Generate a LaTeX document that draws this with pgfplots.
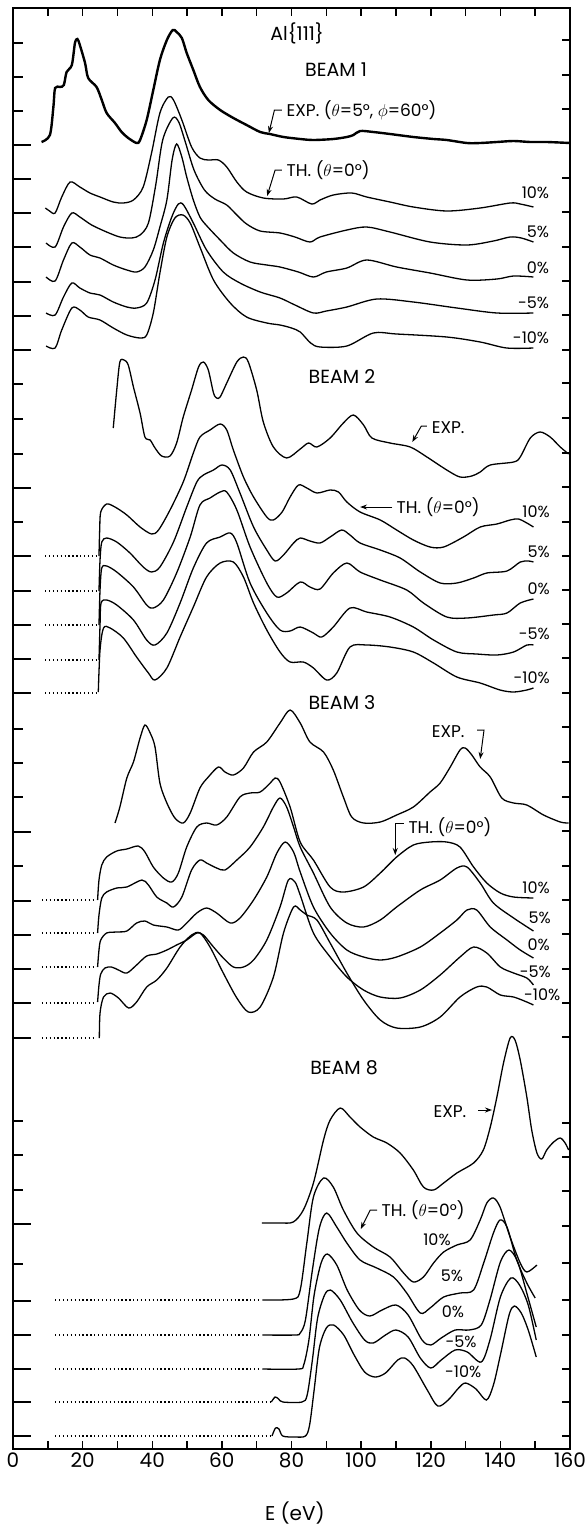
\documentclass[border=0pt]{standalone}
\usepackage{fontspec}
\setmainfont{Poppins}
\usepackage{pgfplots}
\pgfplotsset{compat=1.18}
\usetikzlibrary{arrows.meta}

\newcommand{\lab}{\fontsize{17}{19}\selectfont}
\newcommand{\beam}{\fontsize{19}{21}\selectfont}
\newcommand{\pct}{\fontsize{16}{18}\selectfont}

\pgfplotsset{
  frame/.style={scale only axis, width=557pt, height=1441pt,
    xmin=0, xmax=160, ymin=8, ymax=1449, y dir=reverse, tick align=inside},
  th/.style={black, line width=1.3pt, smooth, tension=0.5},
  base/.style={black, line width=1.3pt, dash pattern=on 1.3pt off 2.6pt},
}
\tikzset{ann/.style={black, line width=1pt, -{Stealth[length=7pt,width=5pt]}}}

\begin{document}
\begin{tikzpicture}
\begin{axis}[frame, name=main, clip=false,
  axis line style={line width=1.8pt},
  xtick={0,20,...,160}, minor xtick={10,30,...,150},
  ytick=\empty,
  major tick length=8pt, minor tick length=8pt,
  tick style={black, line width=1.5pt},
  xticklabel style={font=\fontsize{20}{22}\selectfont},
  /pgf/number format/assume math mode=true,
  xlabel={E (eV)},
  xlabel style={font=\fontsize{20}{22}\selectfont, at={(axis description cs:0.506,0)}, anchor=center, yshift=-64pt},
]

% ---------------- BEAM 1 ----------------
\addplot[black, line width=2.4pt, smooth, tension=0.5] coordinates {
(8.2,142) (10.6,135) (11.6,107) (12.1,88) (13.5,87) (14.6,85) (15.4,72) (16.9,65) (17.8,43) (18.5,39) (19.2,45) (20.7,63) (21.6,78) (24.0,87) (25.5,100) (26.9,113) (29.3,123) (31.2,132) (33.1,138) (35.5,143) (36.5,140) (38.4,120) (40.3,90) (42.2,60) (44.2,40) (45.9,30) (47.0,32) (48.5,38) (49.9,53) (51.8,70) (53.7,87) (56.1,100) (59.5,110) (63.3,118) (67.1,125) (71.0,132) (73.8,134) (77.7,137) (82.5,139) (86.3,140) (92,139) (95.9,137) (97.8,135) (99.7,131) (103.5,132) (108.3,134) (115.0,137) (120.8,139) (124.6,140) (130.4,143) (134.2,143) (139.0,142) (143.8,141) (148.6,142) (153.3,142) (160,143)
};
\addplot[th] coordinates {
(9.3,208) (10.5,211) (12.1,213) (14.0,197) (16.4,182) (19.2,187) (22.1,193) (25,197) (28.8,202) (31.7,203) (34.6,200) (37.4,187) (39.8,153) (42.2,113) (44.6,97) (46.1,100) (48.5,120) (51.3,147) (53.7,158) (56.1,160) (59,160) (61.4,167) (64.3,182) (67.1,192) (71.9,198) (77.7,199) (81.5,197) (85.8,204) (88.2,200) (92,195) (97.3,193) (101.6,197) (108.3,202) (115,207) (124.6,211) (134.2,208) (142.8,203) (145.7,204) (149.5,207)
};
\addplot[th] coordinates {
(9.5,243) (12.1,247) (14.5,227) (16.9,213) (19.2,217) (22.6,225) (26.9,232) (30.7,237) (34.1,238) (36.5,235) (38.9,223) (41,185) (43,140) (45.9,118) (47.6,122) (49.5,142) (52,170) (55,190) (58,199) (61.4,205) (64.3,215) (67.1,224) (71,231) (76.7,233) (81,237) (85.3,242) (88.2,237) (95.9,230) (101.6,227) (108.3,232) (119.8,242) (130.4,245) (138,241) (142.8,237) (146,238) (149.5,242)
};
\addplot[th] coordinates {
(9.5,277) (12.1,281) (14.5,260) (16.9,243) (19.2,247) (22.1,255) (25,258) (28.8,265) (32.7,270) (35.5,272) (37.9,267) (40.3,250) (42.2,227) (44.2,200) (45.7,160) (47,144) (48.5,157) (49.9,177) (51.8,200) (53.7,217) (55.7,226) (59.5,240) (63.3,253) (68.1,262) (72.9,265) (76.7,267) (82,272) (86.3,277) (90,272) (95.9,268) (101.6,260) (110.2,267) (119.8,273) (130.4,280) (139,279) (143.8,276) (149.5,277)
};
\addplot[th] coordinates {
(9.5,313) (12.1,315) (14.5,297) (16.9,283) (19.2,288) (22.1,293) (25,295) (28.8,302) (32.7,307) (35.5,308) (38.4,303) (40.8,280) (43.2,243) (45.6,217) (47.5,204) (49,205) (51.8,223) (55.6,250) (60.4,272) (65.2,283) (71,292) (76.7,298) (81,305) (86.3,313) (90,311) (95.9,307) (104.5,299) (115,302) (127.5,308) (139,313) (149.5,313)
};
\addplot[th] coordinates {
(9.5,346) (12.1,348) (14,330) (16.9,308) (19.2,310) (21.6,317) (25,320) (28.8,328) (32.7,335) (36.5,338) (38.4,335) (40.3,313) (42.2,273) (44.2,237) (46.5,218) (48.8,215) (50.9,223) (53.7,247) (57.6,280) (62.4,303) (67.1,317) (72.9,323) (76.7,325) (80,328) (82.5,332) (85.5,343) (88.2,347) (95.9,346) (103.5,333) (110.2,334) (124.6,337) (134.2,342) (141.8,348) (149.5,348)
};

% ---------------- BEAM 2 ----------------
\addplot[th] coordinates {
(28.8,428) (29.8,390) (30.7,362) (31.9,360) (33.1,365) (34.6,387) (36.5,413) (37.9,437) (39.4,440) (40.8,448) (42.7,456) (45.1,456) (47,443) (48.9,417) (51.3,390) (53.3,367) (54.7,362) (56.1,370) (57.6,393) (58.5,398) (59.5,397) (61.4,383) (64.3,362) (66.2,357) (67.6,362) (70,390) (71.9,422) (74.8,447) (78.6,458) (82.5,449) (84.9,443) (87.3,447) (91.1,438) (94.9,423) (97.8,415) (100.7,425) (103.1,438) (108.3,443) (114.1,447) (118.9,457) (124.6,470) (128.4,477) (131.8,476) (134.2,472) (137.1,465) (143.8,462) (145.7,457) (148.6,438) (151.4,432) (154.3,437) (157.2,447) (159.6,454)
};
\addplot[base] coordinates {(9.2,556) (24.1,556)};
\addplot[base] coordinates {(9.2,591) (24.1,591)};
\addplot[base] coordinates {(9.2,625) (24.1,625)};
\addplot[base] coordinates {(9.2,660) (24.1,660)};
\addplot[base] coordinates {(9.2,693) (24.1,693)};
\addplot[th] coordinates {
(24.7,556) (24.9,530) (25.2,512) (26.9,504) (29.3,507) (32.7,515) (36.5,527) (39.8,534) (41.8,530) (45.1,510) (48.9,482) (51.8,453) (53.7,437) (56.6,430) (59.5,424) (61.4,430) (63.3,450) (66.2,477) (69.1,497) (72.9,517) (74.8,520) (77.3,512) (79.6,497) (82,485) (84.4,488) (87.3,493) (91.1,490) (93.5,492) (95.9,502) (99.7,512) (105.5,520) (110.2,530) (115,540) (119.8,547) (123.7,547) (129.4,537) (134.2,527) (139,524) (142.8,520) (145.2,519) (147.6,523) (149.5,527)
};
\addplot[th] coordinates {
(24.7,591) (25.0,560) (25.5,542) (26.9,538) (29.8,542) (33.6,553) (37.4,567) (39.8,572) (42.2,567) (46.1,542) (49.9,507) (52.8,482) (54.7,475) (57.6,470) (60,465) (62.4,470) (65.2,493) (69.1,527) (72.9,550) (75.3,561) (77.7,555) (80.6,543) (82.5,538) (85.3,541) (88.2,543) (91.1,537) (94.4,530) (96.8,535) (99.7,543) (105.5,550) (111.2,558) (117,572) (122.7,583) (127.5,583) (132.3,578) (136.1,573) (141.9,571) (145.7,562) (148.1,561) (149.5,562)
};
\addplot[th] coordinates {
(24.7,625) (25.0,590) (25.5,568) (26.9,566) (29.8,572) (34.6,587) (38.4,605) (40.3,608) (43.2,600) (47,573) (50.9,537) (53.7,505) (56.6,498) (59.5,492) (61.4,492) (64.3,510) (68.1,547) (72.9,583) (75.8,597) (78.6,593) (82.5,582) (85.3,587) (88.2,589) (92,573) (95.9,563) (99.7,572) (105.5,580) (113.1,590) (117.9,603) (124.6,617) (130.4,618) (138,615) (141.9,613) (145.7,603) (149.5,599)
};
\addplot[th] coordinates {
(24.7,660) (25.0,625) (25.3,603) (26.9,600) (29.8,605) (34.6,620) (38.4,640) (40.8,645) (44.2,633) (48,603) (51.8,568) (55.6,543) (59.5,537) (62.4,533) (64.3,543) (68.1,583) (72.9,613) (76.7,630) (79.6,631) (82.5,627) (86.3,633) (88.7,637) (92,627) (96.8,608) (101.6,612) (108.3,617) (115,627) (120.8,640) (127.5,652) (133.2,654) (139,655) (143.8,652) (147.6,645) (149.5,645)
};
\addplot[th] coordinates {
(24.5,692) (25,650) (26,628) (27.9,628) (31.7,638) (35.5,657) (38.9,673) (40.8,680) (44.2,668) (48,637) (51.8,607) (55.6,577) (59.5,563) (63.3,562) (66.2,577) (69.1,603) (72.9,630) (76.7,652) (79.6,662) (83.4,662) (86.3,668) (90.1,680) (93,673) (96.8,647) (101.6,645) (108.3,647) (115,652) (120.8,663) (127.5,677) (134.2,683) (139.9,690) (143.8,692) (147.6,690) (149.5,688)
};

% ---------------- BEAM 3 ----------------
\addplot[th] coordinates {
(29.3,823) (30.7,807) (32.7,778) (34.6,762) (36.5,738) (37.9,725) (39.4,733) (40.8,747) (42.2,783) (44.2,803) (46.5,818) (48.9,823) (50.9,813) (53.7,788) (56.1,777) (59,767) (60.9,772) (63.3,775) (66.2,768) (69.1,752) (72.9,742) (76.7,723) (79.6,710) (82.5,723) (85.3,742) (89.2,752) (92,770) (94.9,797) (97.3,817) (100.7,823) (105.5,822) (110.2,815) (115,807) (119.8,792) (122.7,783) (125.6,767) (128.4,750) (129.9,748) (131.8,755) (134.2,767) (137.1,777) (140.4,798) (143.8,803) (147.6,805) (152.4,815) (157.2,822) (159.6,823)
};
\addplot[base] coordinates {(8.3,900) (23.6,900)};
\addplot[base] coordinates {(8.3,933) (23.6,933)};
\addplot[base] coordinates {(8.3,967) (23.6,967)};
\addplot[base] coordinates {(8.3,1003) (23.6,1003)};
\addplot[base] coordinates {(8.3,1038) (23.6,1038)};
\addplot[th] coordinates {
(24.3,900) (24.7,880) (25.5,865) (26.9,857) (29.8,851) (32.7,849) (36,846) (37.9,852) (40.3,867) (43.2,878) (45.6,882) (47.5,873) (49.9,847) (52.8,827) (55.6,823) (58.5,825) (61.4,817) (65.2,797) (68.1,793) (71,792) (73.9,783) (75.3,778) (76.7,782) (79.6,807) (82.5,842) (86.3,860) (91.1,887) (94.9,892) (100.7,887) (105.5,873) (110.2,857) (115,845) (119.8,842) (124.6,842) (128.4,847) (132.3,867) (136.1,883) (140,893) (143.8,897) (149.5,898)
};
\addplot[th] coordinates {
(24.3,933) (24.7,915) (25.5,898) (26.9,892) (29.8,888) (32.7,887) (37,880) (38.9,885) (41.3,897) (44.2,903) (46.1,907) (48.5,897) (51.3,870) (53.7,860) (55.6,863) (58.5,868) (60.9,870) (64.3,860) (68.1,847) (71.9,827) (74.8,807) (76.7,798) (78.6,807) (80.6,827) (82.5,847) (86.3,873) (91.1,907) (95.9,923) (100.7,927) (105.5,920) (110.2,907) (117,890) (122.7,880) (127.5,868) (130.4,867) (134.2,883) (138,903) (143.8,918) (149.5,931)
};
\addplot[th] coordinates {
(24.3,967) (24.7,950) (25.2,940) (26.9,933) (29.8,932) (32.7,931) (35.5,923) (37.9,921) (40.3,925) (44.2,927) (47.5,930) (49.9,923) (52.8,913) (55.6,908) (58.5,913) (62.4,923) (65.2,918) (69.1,900) (72.9,877) (75.8,853) (78.2,842) (80.6,852) (82.5,872) (86.3,907) (91.1,933) (95.9,950) (100.7,957) (105.5,960) (110.2,957) (117,947) (122.7,933) (127.5,920) (130.4,910) (133.2,910) (137.1,927) (141.9,940) (145.7,950) (149.5,958)
};
\addplot[th] coordinates {
(24.3,1002) (24.7,985) (25.2,974) (26.4,968) (28.3,967) (30.3,970) (32.7,973) (35.5,965) (38.4,956) (41.3,954) (44.2,950) (47,945) (49.9,940) (52.8,933) (54.7,935) (57.6,947) (60.4,958) (63.3,967) (66.2,967) (69.1,960) (72.9,940) (76.7,907) (79.1,880) (81,882) (82.5,895) (86.3,933) (91.1,957) (95.9,977) (100.7,990) (105.5,997) (111.2,998) (117,990) (122.7,975) (128.4,957) (132.3,947) (136.1,953) (140,967) (143.8,973) (147.6,978) (149.5,985)
};
\addplot[th] coordinates {
(24.8,1038) (25,1013) (26,997) (27.9,993) (30.3,998) (33.2,1008) (35.5,1002) (38.4,987) (41.3,980) (44.2,968) (48,947) (51.3,935) (53.7,933) (56.6,947) (60.4,973) (64.3,998) (67.6,1012) (71,1007) (74.8,977) (77.7,933) (80.6,907) (82.5,910) (84.4,915) (87.3,920) (91.1,943) (95.9,973) (100.7,1000) (105.5,1020) (110.2,1028) (117,1027) (122.7,1017) (128.4,997) (133.2,987) (136.1,987) (140,995) (143.8,997) (147.6,1002) (149.5,1005)
};

% ---------------- BEAM 8 ----------------
\addplot[th] coordinates {
(71.5,1223) (76.7,1223) (80.5,1222) (83.4,1210) (86.3,1183) (89.2,1140) (91.1,1120) (94,1108) (96.8,1117) (99.7,1127) (103.5,1137) (107.4,1143) (111.2,1153) (115,1170) (117.9,1187) (120.8,1190) (123.7,1183) (127.5,1173) (132.3,1163) (135.1,1150) (137.1,1127) (139,1097) (140.9,1063) (142.8,1038) (144.2,1040) (145.7,1060) (147.6,1097) (149,1130) (150.5,1153) (151.9,1159) (153.3,1150) (155.3,1142) (157.2,1138) (158.6,1143) (159.6,1150)
};
\addplot[base] coordinates {(12.1,1300) (71.4,1300)};
\addplot[base] coordinates {(12.1,1335) (71.4,1335)};
\addplot[base] coordinates {(12.1,1369) (71.4,1369)};
\addplot[base] coordinates {(12.1,1402) (74.2,1402)};
\addplot[base] coordinates {(12.1,1436) (74.2,1436)};
\addplot[th] coordinates {
(71.6,1300) (80.5,1299) (82.5,1290) (84.4,1243) (86.3,1197) (89.2,1178) (92,1187) (94.9,1210) (98.8,1233) (103.5,1247) (108.3,1257) (112.2,1273) (115,1282) (117.9,1277) (120.8,1263) (123.7,1252) (127.5,1245) (131.3,1240) (134.2,1220) (136.1,1203) (138,1198) (139.9,1207) (142.8,1237) (145.7,1263) (147.6,1272) (150.5,1265)
};
\addplot[th] coordinates {
(71.6,1335) (81,1335) (82.5,1333) (84,1320) (86,1270) (88,1228) (90.1,1213) (93,1227) (95.9,1243) (99.7,1260) (104.5,1268) (109.3,1277) (113.1,1293) (117,1313) (119.8,1308) (123.7,1297) (128.4,1293) (132.3,1290) (135.2,1263) (138,1233) (139.9,1220) (141.9,1227) (144.7,1260) (147.6,1283) (150,1298)
};
\addplot[th] coordinates {
(71.6,1369) (82,1369) (83.5,1365) (85,1340) (86.5,1295) (88.5,1263) (90.3,1254) (93,1265) (96,1290) (99.5,1310) (102.5,1316) (106,1310) (110,1305) (113.5,1315) (117.5,1340) (120,1345) (123,1338) (127,1330) (131,1330) (134.5,1325) (137,1300) (140,1262) (142.5,1250) (145,1262) (147.5,1292) (150.3,1327)
};
\addplot[th] coordinates {
(74.2,1402) (75.3,1397) (76.3,1399) (77.5,1402) (83,1402) (84.5,1395) (86,1360) (87.5,1318) (89.5,1295) (91.2,1290) (94,1300) (97.5,1322) (101,1340) (103.5,1343) (107,1335) (110,1330) (113.5,1337) (117,1358) (120,1368) (123,1360) (127,1350) (130.5,1352) (134.5,1362) (137,1340) (140,1297) (143,1278) (145.5,1285) (148,1305) (150.3,1340)
};
\addplot[th] coordinates {
(74.4,1436) (75.4,1428) (76.4,1429) (77.5,1436) (81,1437) (84,1436) (85.2,1425) (86.5,1390) (88,1348) (90,1328) (92.1,1325) (95,1335) (98,1355) (101,1372) (104,1377) (107,1373) (110.5,1360) (112.5,1358) (115,1366) (119,1390) (122,1406) (125,1400) (128,1388) (130,1383) (133,1389) (136,1400) (138,1385) (140,1355) (142.5,1315) (144,1306) (146,1313) (148,1330) (150.3,1357)
};

% ---------------- annotations ----------------
\node[font=\beam] at (axis cs:81.6,33) {Al\{111\}};
\node[font=\beam] at (axis cs:92.8,70) {BEAM 1};
\node[font=\lab, anchor=west] at (axis cs:77.6,110) {EXP. ($\theta$=5°, $\phi$=60°)};
\draw[ann] (axis cs:77.2,110) -- (axis cs:75.1,110) -- (axis cs:73.5,133);
\node[font=\lab, anchor=west] at (axis cs:77.6,170) {TH. ($\theta$=0°)};
\draw[ann] (axis cs:77.2,170) -- (axis cs:75.3,170) -- (axis cs:73.0,196);
\node[font=\pct, anchor=east] at (axis cs:155,193) {10\%};
\node[font=\pct, anchor=east] at (axis cs:155,232) {5\%};
\node[font=\pct, anchor=east] at (axis cs:155,268) {0\%};
\node[font=\pct, anchor=east] at (axis cs:155,303) {-5\%};
\node[font=\pct, anchor=east] at (axis cs:155,338) {-10\%};

\node[font=\beam] at (axis cs:94.5,377) {BEAM 2};
\node[font=\lab, anchor=west] at (axis cs:119.3,428) {EXP.};
\draw[ann] (axis cs:118.9,426) -- (axis cs:117.3,426) -- (axis cs:114.7,442);
\node[font=\lab, anchor=west] at (axis cs:109.2,507) {TH. ($\theta$=0°)};
\draw[ann] (axis cs:109.0,507) -- (axis cs:99.7,507);
\node[font=\pct, anchor=east] at (axis cs:155.2,512) {10\%};
\node[font=\pct, anchor=east] at (axis cs:155.2,552) {5\%};
\node[font=\pct, anchor=east] at (axis cs:155.2,589) {0\%};
\node[font=\pct, anchor=east] at (axis cs:155.2,634) {-5\%};
\node[font=\pct, anchor=east] at (axis cs:155.2,678) {-10\%};

\node[font=\beam] at (axis cs:94.5,703) {BEAM 3};
\node[font=\lab, anchor=west] at (axis cs:119.3,732) {EXP.};
\draw[ann] (axis cs:133.3,730) -- (axis cs:135.3,730) -- (axis cs:134.2,759);
\node[font=\lab, anchor=west] at (axis cs:112.6,827) {TH. ($\theta$=0°)};
\draw[ann] (axis cs:112.2,823) -- (axis cs:109.8,823) -- (axis cs:109.8,855);
\node[font=\pct, anchor=east] at (axis cs:155.2,888) {10\%};
\node[font=\pct, anchor=east] at (axis cs:155.5,918) {5\%};
\node[font=\pct, anchor=east] at (axis cs:155.2,945) {0\%};
\node[font=\pct, anchor=east] at (axis cs:155.5,972) {-5\%};
\node[font=\pct, anchor=east] at (axis cs:158.2,995) {-10\%};

\node[font=\beam] at (axis cs:95.1,1068) {BEAM 8};
\node[font=\lab, anchor=west] at (axis cs:119.8,1112) {EXP.};
\draw[ann] (axis cs:133.6,1110) -- (axis cs:137.6,1110);
\node[font=\lab, anchor=west] at (axis cs:104.9,1210) {TH. ($\theta$=0°)};
\draw[ann] (axis cs:104.6,1210) -- (axis cs:102.6,1210) -- (axis cs:99.9,1229);
\node[font=\pct] at (axis cs:121.8,1240) {10\%};
\node[font=\pct] at (axis cs:126.1,1276) {5\%};
\node[font=\pct] at (axis cs:126.4,1312) {0\%};
\node[font=\pct] at (axis cs:128.7,1342) {-5\%};
\node[font=\pct] at (axis cs:129.3,1372) {-10\%};
\end{axis}

% left ticks: long at curve baselines, short in between
\begin{axis}[frame, axis line style={draw=none},
  xtick=\empty, ytick pos=left, yticklabels={},
  ytick={145,179,213,247,282,316,350,488,556,591,625,659,693,832,901,935,969,1003,1038,1224,1301,1335,1369,1402,1436},
  minor ytick={43,77,111,384,419,454,522,729,763,797,866,1121,1155,1190,1264},
  major tick length=18pt, minor tick length=10pt,
  tick style={black, line width=1.5pt}]
\end{axis}

% right ticks
\begin{axis}[frame, axis line style={draw=none},
  xtick=\empty, ytick pos=right, yticklabels={},
  ytick={40,75,109,143,178,212,247,281,315,350,383,418,453,487,522,556,590,624,658,693,727,762,797,831,866,900,934,969,1003,1037,1123,1157,1191,1226,1263,1300,1335,1369,1402,1436},
  major tick length=8pt,
  tick style={black, line width=1.5pt}]
\end{axis}

\pgfresetboundingbox
\path[use as bounding box] ([xshift=-13pt,yshift=-77pt]main.south west) rectangle ([xshift=17pt,yshift=8pt]main.north east);
\end{tikzpicture}
\end{document}
